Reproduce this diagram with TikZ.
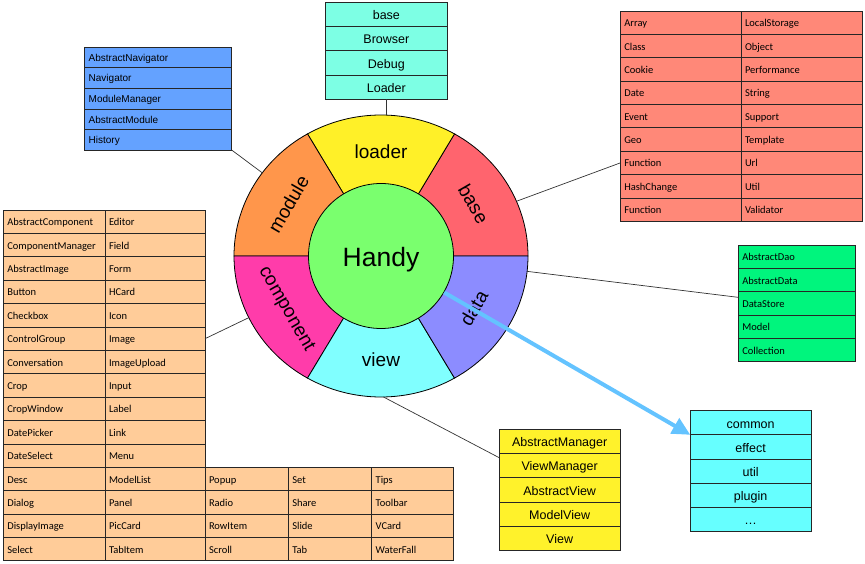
\documentclass[tikz,border=0pt]{standalone}
\usepackage{fontspec}
\setmainfont{Liberation Sans}
\newfontfamily\calibri{Carlito}
\usetikzlibrary{shapes.geometric,arrows.meta,calc}

% table colours
\definecolor{modBlue}{RGB}{100,162,255}
\definecolor{ldrAqua}{RGB}{125,255,228}
\definecolor{baseSalmon}{RGB}{255,136,120}
\definecolor{dataGreen}{RGB}{0,245,125}
\definecolor{compPeach}{RGB}{255,204,153}
\definecolor{viewYellow}{RGB}{255,242,43}
\definecolor{extCyan}{RGB}{102,255,255}
% wheel colours
\definecolor{segBase}{RGB}{255,100,110}
\definecolor{segLoader}{RGB}{255,240,40}
\definecolor{segModule}{RGB}{255,150,75}
\definecolor{segComp}{RGB}{255,60,170}
\definecolor{segView}{RGB}{128,255,255}
\definecolor{segData}{RGB}{140,140,255}
\definecolor{hubGreen}{RGB}{122,255,110}
\definecolor{arrowBlue}{RGB}{100,195,255}

\tikzset{
  cell/.style={draw=black!85, line width=0.8pt, inner ysep=0pt, outer sep=0pt, anchor=north west},
  lcell/.style={cell, inner xsep=4pt, align=left, font=\calibri\fontsize{10.5}{12}\selectfont, text height=8pt, text depth=0pt},
  ccell/.style={cell, font=\fontsize{12.5}{15}\selectfont, text height=10.6pt, text depth=0pt},
  modcell/.style={cell, fill=modBlue, inner xsep=4pt, align=left, text width=139pt, font=\fontsize{10}{12}\selectfont, text height=7.6pt, text depth=0pt, minimum height=20.55pt},
  ldrcell/.style={ccell, fill=ldrAqua, minimum width=122.7pt, minimum height=24.25pt},
  basecell/.style={lcell, fill=baseSalmon, text width=#1, minimum height=23.37pt},
  datacell/.style={lcell, fill=dataGreen, text width=109.4pt, minimum height=23.34pt},
  compcell/.style={lcell, fill=compPeach, text width=#1, minimum height=23.4pt},
  viewcell/.style={ccell, fill=viewYellow, minimum width=121.3pt, minimum height=24.2pt},
  extcell/.style={ccell, fill=extCyan, minimum width=120.7pt, minimum height=24.12pt},
  seglabel/.style={font=\fontsize{19}{22}\selectfont, text height=13.6pt, text depth=0pt, inner sep=0pt},
  link/.style={draw=black!80, line width=0.7pt}
}

\begin{document}
\begin{tikzpicture}[x=1pt, y=1pt]
        \useasboundingbox (0,0) rectangle (865,563);

        % Wheel
        \node[ellipse, minimum width=294pt, minimum height=282pt, inner sep=0pt, outer sep=0pt] (wheel) at (381,307) {};
        \foreach \a/\col in {0/segBase,60/segLoader,120/segModule,180/segComp,240/segView,300/segData}
            \filldraw[fill=\col, draw=black, line width=0.8pt] (wheel.center) -- ++(\a:147 and 141)
                arc[start angle=\a, delta angle=60, x radius=147, y radius=141] -- cycle;
        \node[circle, draw=black, line width=0.8pt, fill=hubGreen, minimum size=145pt, inner sep=0pt,
              font=\fontsize{26.5}{30}\selectfont, text height=21.5pt, text depth=0pt] (hub) at (wheel.center) {Handy};

        % Segment labels
        \foreach \a/\txt/\rot in {90/loader/0, 30/base/-60, 330/data/60, 270/view/0, 210/component/-60, 150/module/60}
            \node[seglabel, rotate=\rot] (lbl\txt) at ($(wheel.center)+(\a:107 and 104)$) {\txt};

        % module table
        \foreach \name [count=\i] in {AbstractNavigator,Navigator,ModuleManager,AbstractModule,History}
            \node[modcell] (mod\i) at (84.7, {515.7-(\i-1)*20.55}) {\name};

        % loader table
        \foreach \name [count=\i] in {base,Browser,Debug,Loader}
            \node[ldrcell] (ldr\i) at (325, {560.7-(\i-1)*24.25}) {\name};

        % base table
        \foreach \l/\r [count=\i] in {Array/LocalStorage,Class/Object,Cookie/Performance,Date/String,Event/Support,
                                      Geo/Template,Function/Url,HashChange/Util,Function/Validator} {
                \node[basecell=112.7pt] (bl\i) at (620.3, {552-(\i-1)*23.37}) {\l};
                \node[basecell=113.3pt] (br\i) at (741, {552-(\i-1)*23.37}) {\r};
            }

        % data table
        \foreach \name [count=\i] in {AbstractDao,AbstractData,DataStore,Model,Collection}
            \node[datacell] (dat\i) at (738.3, {318-(\i-1)*23.34}) {\name};

        % component table, upper part
        \foreach \l/\r [count=\i] in {AbstractComponent/Editor,ComponentManager/Field,AbstractImage/Form,Button/HCard,
                                      Checkbox/Icon,ControlGroup/Image,Conversation/ImageUpload,Crop/Input,
                                      CropWindow/Label,DatePicker/Link,DateSelect/Menu} {
                \node[compcell=93.7pt] (cl\i) at (3.3, {353-(\i-1)*23.4}) {\l};
                \node[compcell=92pt] (cr\i) at (105, {353-(\i-1)*23.4}) {\r};
            }

        % component table, lower part
        \foreach \a/\b/\c/\d/\e [count=\i] in {Desc/ModelList/Popup/Set/Tips,Dialog/Panel/Radio/Share/Toolbar,
                                               DisplayImage/PicCard/RowItem/Slide/VCard,Select/TabItem/Scroll/Tab/WaterFall} {
                \node[compcell=93.7pt] (cba\i) at (3.3, {95.6-(\i-1)*23.35}) {\a};
                \node[compcell=92pt] (cbb\i) at (105, {95.6-(\i-1)*23.35}) {\b};
                \node[compcell=75.3pt] (cbc\i) at (205, {95.6-(\i-1)*23.35}) {\c};
                \node[compcell=75.4pt] (cbd\i) at (288.3, {95.6-(\i-1)*23.35}) {\d};
                \node[compcell=73.6pt] (cbe\i) at (371.7, {95.6-(\i-1)*23.35}) {\e};
            }

        % view table
        \foreach \name [count=\i] in {AbstractManager,ViewManager,AbstractView,ModelView,View}
            \node[viewcell] (vw\i) at (499, {133.7-(\i-1)*24.2}) {\name};

        % extension table
        \foreach \name [count=\i] in {common,effect,util,plugin,\dots}
            \node[extcell] (ext\i) at (690.3, {152.3-(\i-1)*24.12}) {\name};

        % Links from the wheel to the tables
        \draw[link] (mod5.south east) -- (wheel.145);
        \draw[link] (ldr4.south) -- (ldr4.south |- wheel.north);
        \draw[link] (bl7.west) -- (wheel.22);
        \draw[link] ([yshift=6pt]dat3.west) -- (wheel.354);
        \draw[link] (cr6.east) -- (wheel.205);
        \draw[link] ([yshift=8pt]vw2.west) -- (wheel.271);

        % Arrow to the extensions
        \draw[arrowBlue, line width=4pt, -{Triangle[length=18pt, width=17pt]}] (hub.-30) -- (ext1.south west);
    \end{tikzpicture}
\end{document}
